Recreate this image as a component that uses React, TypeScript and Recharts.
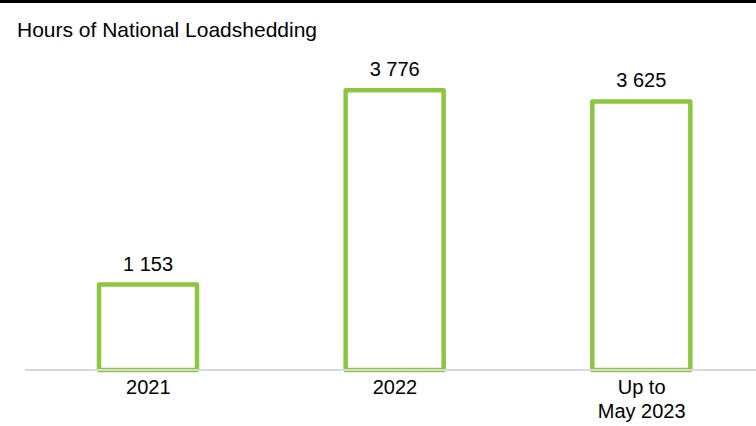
import { Bar, BarChart, LabelList, XAxis, YAxis } from 'recharts';

const PERIODS = ['2021', '2022', 'Up to\nMay 2023'];
const HOURS = [1153, 3776, 3625];

const GREEN = '#8cc63f';
const FONT = '"Liberation Sans", Arial, sans-serif';

const data = PERIODS.map((period, i) => ({ period, hours: HOURS[i] }));

function formatHours(v: number) {
  return String(v).replace(/\B(?=(\d{3})+(?!\d))/g, ' ');
}

function PeriodTick({ x, y, payload }: any) {
  const lines = String(payload.value).split('\n');
  return (
    <text x={x} y={y} textAnchor="middle" fill="#000" fontSize={20} fontFamily={FONT}>
      {lines.map((line, i) => (
        <tspan key={i} x={x} dy={i === 0 ? 16 : 24}>
          {line}
        </tspan>
      ))}
    </text>
  );
}

export default function App() {
  return (
    <div
      style={{
        position: 'absolute',
        left: 0,
        top: 0,
        width: 756,
        height: 426,
        overflow: 'hidden',
        background: '#fff',
        fontFamily: FONT,
      }}
    >
      <div style={{ position: 'absolute', left: 0, top: 0, width: 756, height: 3, background: '#000' }} />
      <div style={{ position: 'absolute', left: 17, top: 18.8, fontSize: 21, lineHeight: 1, color: '#000' }}>
        Hours of National Loadshedding
      </div>
      <BarChart width={765} height={426} data={data} margin={{ top: 73.6, right: 0, bottom: 0, left: 25 }}>
        <YAxis hide domain={[0, 4000]} />
        <XAxis
          dataKey="period"
          height={56}
          interval={0}
          tickLine={false}
          axisLine={{ stroke: '#d9d9d9', strokeWidth: 2 }}
          tick={<PeriodTick />}
        />
        <Bar
          dataKey="hours"
          fill="#fff"
          stroke={GREEN}
          strokeWidth={4.5}
          strokeLinejoin="round"
          barSize={98}
          isAnimationActive={false}
        >
          <LabelList
            dataKey="hours"
            position="top"
            offset={14}
            formatter={(v: any) => formatHours(Number(v))}
            fill="#000"
            fontSize={20}
            fontFamily={FONT}
          />
        </Bar>
      </BarChart>
    </div>
  );
}
